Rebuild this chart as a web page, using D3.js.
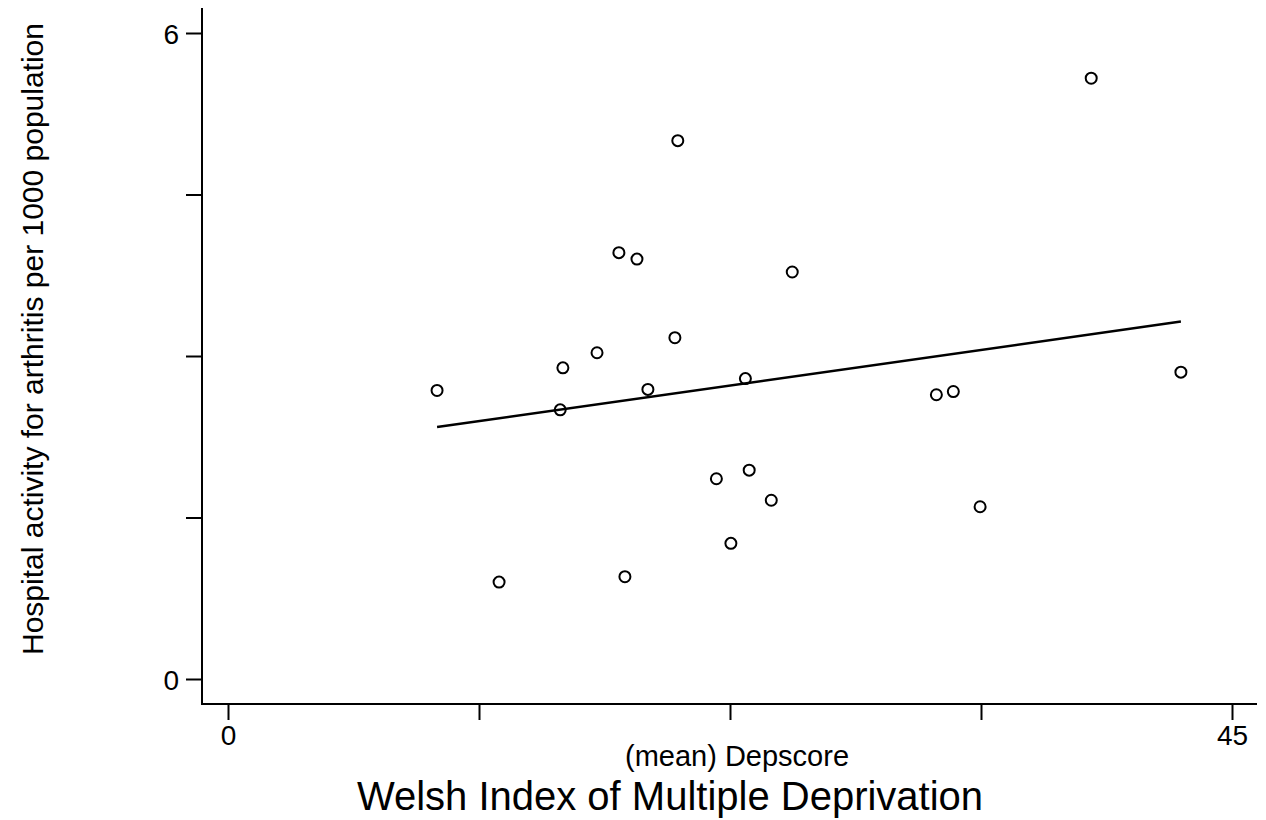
<!DOCTYPE html>
<html lang="en">
<head>
    <meta charset="UTF-8">
    <title>Hospital activity for arthritis vs Welsh Index of Multiple Deprivation</title>
    <script src="https://d3js.org/d3.v7.min.js"></script>
    <style>
        body { margin: 0; background: #fff; }
        text { font-family: "Liberation Sans", Arial, sans-serif; fill: #000; }
    </style>
</head>
<body>
    <script>
        // Data: mean Depscore per area and arthritis activity per 1000
        const depscore = [9.37, 12.15, 14.89, 15.01, 16.54, 17.52, 17.79, 18.33, 18.82, 20.03, 20.16,
                          21.89, 22.54, 23.19, 23.36, 24.35, 25.29, 31.75, 32.51, 33.71, 38.69, 42.71];
        const activity = [2.68, 0.90, 2.50, 2.89, 3.03, 3.96, 0.95, 3.90, 2.69, 3.17, 5.00,
                          1.86, 1.26, 2.79, 1.94, 1.66, 3.78, 2.64, 2.67, 1.60, 5.58, 2.85];

        // Fitted line end values
        const fitX = [9.37, 42.71];
        const fitY = [2.34, 3.32];

        // Axis ticks: marks at every value, labels only at the ends
        const xTicks = [0, 11.25, 22.5, 33.75, 45];
        const xTickLabels = ['0', '', '', '', '45'];
        const yTicks = [0, 1.5, 3, 4.5, 6];
        const yTickLabels = ['0', '', '', '', '6'];

        const width = 1266, height = 820;
        const svg = d3.select('body').append('svg').attr('width', width).attr('height', height);

        const x = d3.scaleLinear().domain([0, 45]).range([228, 1232]);
        const y = d3.scaleLinear().domain([0, 6]).range([679, 33]);

        const axisX = 202, axisY = 704;

        // axis lines
        svg.append('line')
            .attr('x1', axisX).attr('x2', axisX).attr('y1', 8).attr('y2', axisY)
            .attr('stroke', '#000').attr('stroke-width', 2);
        svg.append('line')
            .attr('x1', axisX - 1).attr('x2', 1257).attr('y1', axisY).attr('y2', axisY)
            .attr('stroke', '#000').attr('stroke-width', 2);

        const gy = svg.append('g')
            .attr('transform', `translate(${axisX},0)`)
            .call(d3.axisLeft(y).tickValues(yTicks).tickSize(16).tickPadding(7)
                .tickFormat((d, i) => yTickLabels[i]));
        gy.select('.domain').remove();
        gy.selectAll('.tick line').attr('stroke-width', 2);
        gy.selectAll('.tick text').style('font-size', '28px').attr('dy', '0.36em');

        const gx = svg.append('g')
            .attr('transform', `translate(0,${axisY})`)
            .call(d3.axisBottom(x).tickValues(xTicks).tickSize(16).tickPadding(5)
                .tickFormat((d, i) => xTickLabels[i]));
        gx.select('.domain').remove();
        gx.selectAll('.tick line').attr('stroke-width', 2);
        gx.selectAll('.tick text').style('font-size', '28px');

        // fitted line
        svg.append('line')
            .attr('x1', x(fitX[0])).attr('y1', y(fitY[0]))
            .attr('x2', x(fitX[1])).attr('y2', y(fitY[1]))
            .attr('stroke', '#000').attr('stroke-width', 2.5);

        // points
        svg.selectAll('circle.pt')
            .data(depscore)
            .join('circle')
            .attr('class', 'pt')
            .attr('cx', d => x(d))
            .attr('cy', (d, i) => y(activity[i]))
            .attr('r', 5.5)
            .attr('fill', 'none')
            .attr('stroke', '#000')
            .attr('stroke-width', 2);

        // titles
        svg.append('text')
            .attr('transform', 'translate(43,339) rotate(-90)')
            .attr('text-anchor', 'middle')
            .style('font-size', '30px')
            .text('Hospital activity for arthritis per 1000 population');

        svg.append('text')
            .attr('x', 737).attr('y', 766)
            .attr('text-anchor', 'middle')
            .style('font-size', '29px')
            .text('(mean) Depscore');

        svg.append('text')
            .attr('x', 670).attr('y', 810)
            .attr('text-anchor', 'middle')
            .style('font-size', '40px')
            .text('Welsh Index of Multiple Deprivation');
    </script>
</body>
</html>
